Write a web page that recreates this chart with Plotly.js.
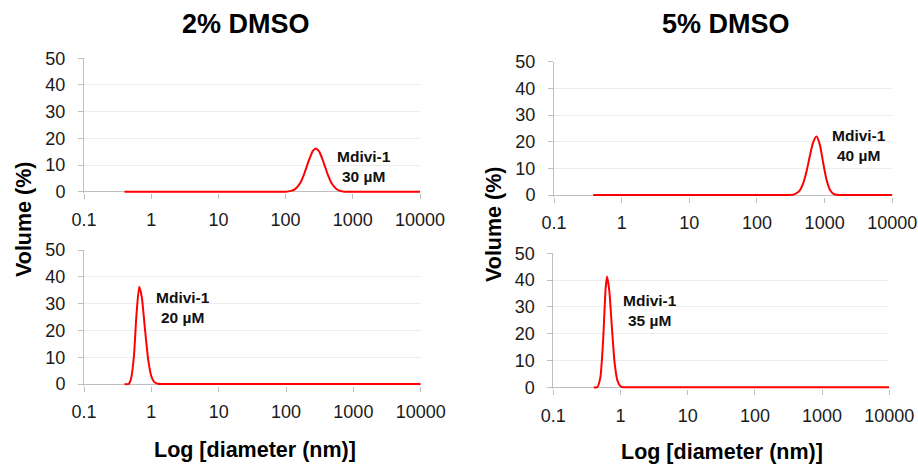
<!DOCTYPE html>
<html>
<head>
<meta charset="utf-8">
<script src="https://cdn.plot.ly/plotly-3.0.1.min.js"></script>
<style>html,body{margin:0;padding:0;background:#fff}#chart{width:918px;height:465px}</style>
</head>
<body>
<div id="chart"></div>
<script>
// Tick labels
const xTickVals = [0.1, 1, 10, 100, 1000, 10000];
const xTickText = ["0.1", "1", "10", "100", "1000", "10000"];
const yTickVals = [0, 10, 20, 30, 40, 50];

// 2% DMSO, Mdivi-1 30 µM
const d_2pct_30 = [0.4, 80, 100, 120, 140, 165, 190, 220, 255, 283, 315, 365, 420, 490, 570, 650, 750, 900, 10000];
const v_2pct_30 = [0, 0, 0, 0.3, 1.05, 3.25, 6.8, 11.5, 15.3, 16.2, 15.1, 11.2, 6.7, 2.95, 1.0, 0.3, 0, 0, 0];

// 5% DMSO, Mdivi-1 40 µM
const d_5pct_40 = [0.38, 220, 282, 355, 417, 479, 537, 603, 676, 759, 851, 955, 1072, 1202, 1349, 1585, 2000, 10000];
const v_5pct_40 = [0, 0, 0, 0.25, 1.35, 4.2, 8.6, 14.5, 19.7, 21.9, 18.8, 11.8, 5.5, 1.85, 0.45, 0, 0, 0];

// 2% DMSO, Mdivi-1 20 µM
const d_2pct_20 = [0.4, 0.46, 0.5, 0.55, 0.6, 0.66, 0.72, 0.8, 0.9, 1.0, 1.1, 1.25, 1.4, 1.7, 10000];
const v_2pct_20 = [0, 0, 2.0, 10.1, 25.5, 36.3, 32.6, 21.1, 8.9, 2.9, 0.8, 0.1, 0, 0, 0];

// 5% DMSO, Mdivi-1 35 µM
const d_5pct_35 = [0.4, 0.45, 0.5, 0.55, 0.6, 0.63, 0.68, 0.75, 0.82, 0.9, 1.0, 1.1, 1.3, 10000];
const v_5pct_35 = [0, 0, 3.5, 17, 36.7, 41.3, 36.3, 21.2, 8.8, 2.5, 0.4, 0, 0, 0];

// Labels
const colTitles = ["2% DMSO", "5% DMSO"];
const sampleLabels = ["Mdivi-1<br>30 µM", "Mdivi-1<br>40 µM", "Mdivi-1<br>20 µM", "Mdivi-1<br>35 µM"];
const yTitle = "Volume (%)";
const xTitle = "Log [diameter (nm)]";

const FONT = "Liberation Sans, Arial, sans-serif";
const lineStyle = {color: "#ff0000", width: 2, shape: "spline", smoothing: 0.6};

const traces = [
  {x: d_2pct_30, y: v_2pct_30, xaxis: "x", yaxis: "y"},
  {x: d_5pct_40, y: v_5pct_40, xaxis: "x2", yaxis: "y2"},
  {x: d_2pct_20, y: v_2pct_20, xaxis: "x3", yaxis: "y3"},
  {x: d_5pct_35, y: v_5pct_35, xaxis: "x4", yaxis: "y4"}
].map(t => Object.assign(t, {type: "scatter", mode: "lines", line: lineStyle, hoverinfo: "skip", showlegend: false}));

const YMIN = -0.6;
function xax(domain, anchor) {
  return {
    type: "log", range: [-1, 4], domain: domain, anchor: anchor,
    tickvals: xTickVals, ticktext: xTickText,
    showgrid: false, zeroline: false,
    showline: false,
    ticks: "outside", ticklen: 5, tickcolor: "#bfbfbf",
    ticklabelstandoff: 5,
    layer: "below traces",
    tickfont: {family: FONT, size: 18, color: "#1a1a1a"}
  };
}
function yax(top, zeroPix, anchor) {
  const pxPerUnit = (zeroPix - top) / 50;
  const bottom = zeroPix - YMIN * pxPerUnit;
  return {
    range: [YMIN, 50], domain: [1 - bottom/465, 1 - top/465], anchor: anchor,
    tickvals: yTickVals,
    showgrid: true, gridcolor: "#ececec", gridwidth: 1,
    zeroline: true, zerolinecolor: "#bfbfbf", zerolinewidth: 1,
    showline: true, linecolor: "#bfbfbf", linewidth: 1,
    ticks: "outside", ticklen: 5, tickcolor: "#bfbfbf",
    ticklabelstandoff: 9,
    layer: "below traces",
    tickfont: {family: FONT, size: 18, color: "#1a1a1a"}
  };
}

const annFont = {family: FONT, size: 15.5, color: "#111"};
const annotations = [
  {xref: "x", yref: "y", x: 3.173, y: 9.3, text: "<b>" + sampleLabels[0] + "</b>"},
  {xref: "x2", yref: "y2", x: 3.51, y: 18.4, text: "<b>" + sampleLabels[1] + "</b>"},
  {xref: "x3", yref: "y3", x: 0.473, y: 28.4, text: "<b>" + sampleLabels[2] + "</b>"},
  {xref: "x4", yref: "y4", x: 0.435, y: 28.8, text: "<b>" + sampleLabels[3] + "</b>"}
].map(a => Object.assign(a, {showarrow: false, font: annFont, align: "center", xanchor: "center", yanchor: "middle"}));

const titleFont = {family: FONT, size: 27, color: "#000"};
const axTitleFont = {family: FONT, size: 21.5, color: "#000"};
annotations.push(
  {xref: "paper", yref: "paper", x: 246/918, y: 1 - 24/465, text: "<b>" + colTitles[0] + "</b>", font: titleFont},
  {xref: "paper", yref: "paper", x: 726/918, y: 1 - 24/465, text: "<b>" + colTitles[1] + "</b>", font: titleFont},
  {xref: "paper", yref: "paper", x: 24/918, y: 1 - 220/465, text: "<b>" + yTitle + "</b>", font: axTitleFont, textangle: -90},
  {xref: "paper", yref: "paper", x: 494/918, y: 1 - 225/465, text: "<b>" + yTitle + "</b>", font: axTitleFont, textangle: -90},
  {xref: "paper", yref: "paper", x: 255/918, y: 1 - 450/465, text: "<b>" + xTitle + "</b>", font: axTitleFont},
  {xref: "paper", yref: "paper", x: 722/918, y: 1 - 452/465, text: "<b>" + xTitle + "</b>", font: axTitleFont}
);
for (let i = 4; i < annotations.length; i++) {
  Object.assign(annotations[i], {showarrow: false, xanchor: "center", yanchor: "middle"});
}

const layout = {
  width: 918, height: 465,
  margin: {l: 0, r: 0, t: 0, b: 0},
  paper_bgcolor: "#fff", plot_bgcolor: "#fff",
  showlegend: false,
  xaxis: xax([84/918, 420/918], "y"),
  yaxis: yax(58.3, 191.7, "x"),
  xaxis2: xax([554/918, 892.3/918], "y2"),
  yaxis2: yax(61.7, 195, "x2"),
  xaxis3: xax([84/918, 420.7/918], "y3"),
  yaxis3: yax(250, 384, "x3"),
  xaxis4: xax([553.3/918, 889.3/918], "y4"),
  yaxis4: yax(253.3, 387.3, "x4"),
  annotations: annotations
};

Plotly.newPlot("chart", traces, layout, {staticPlot: true, displayModeBar: false});
</script>
</body>
</html>
